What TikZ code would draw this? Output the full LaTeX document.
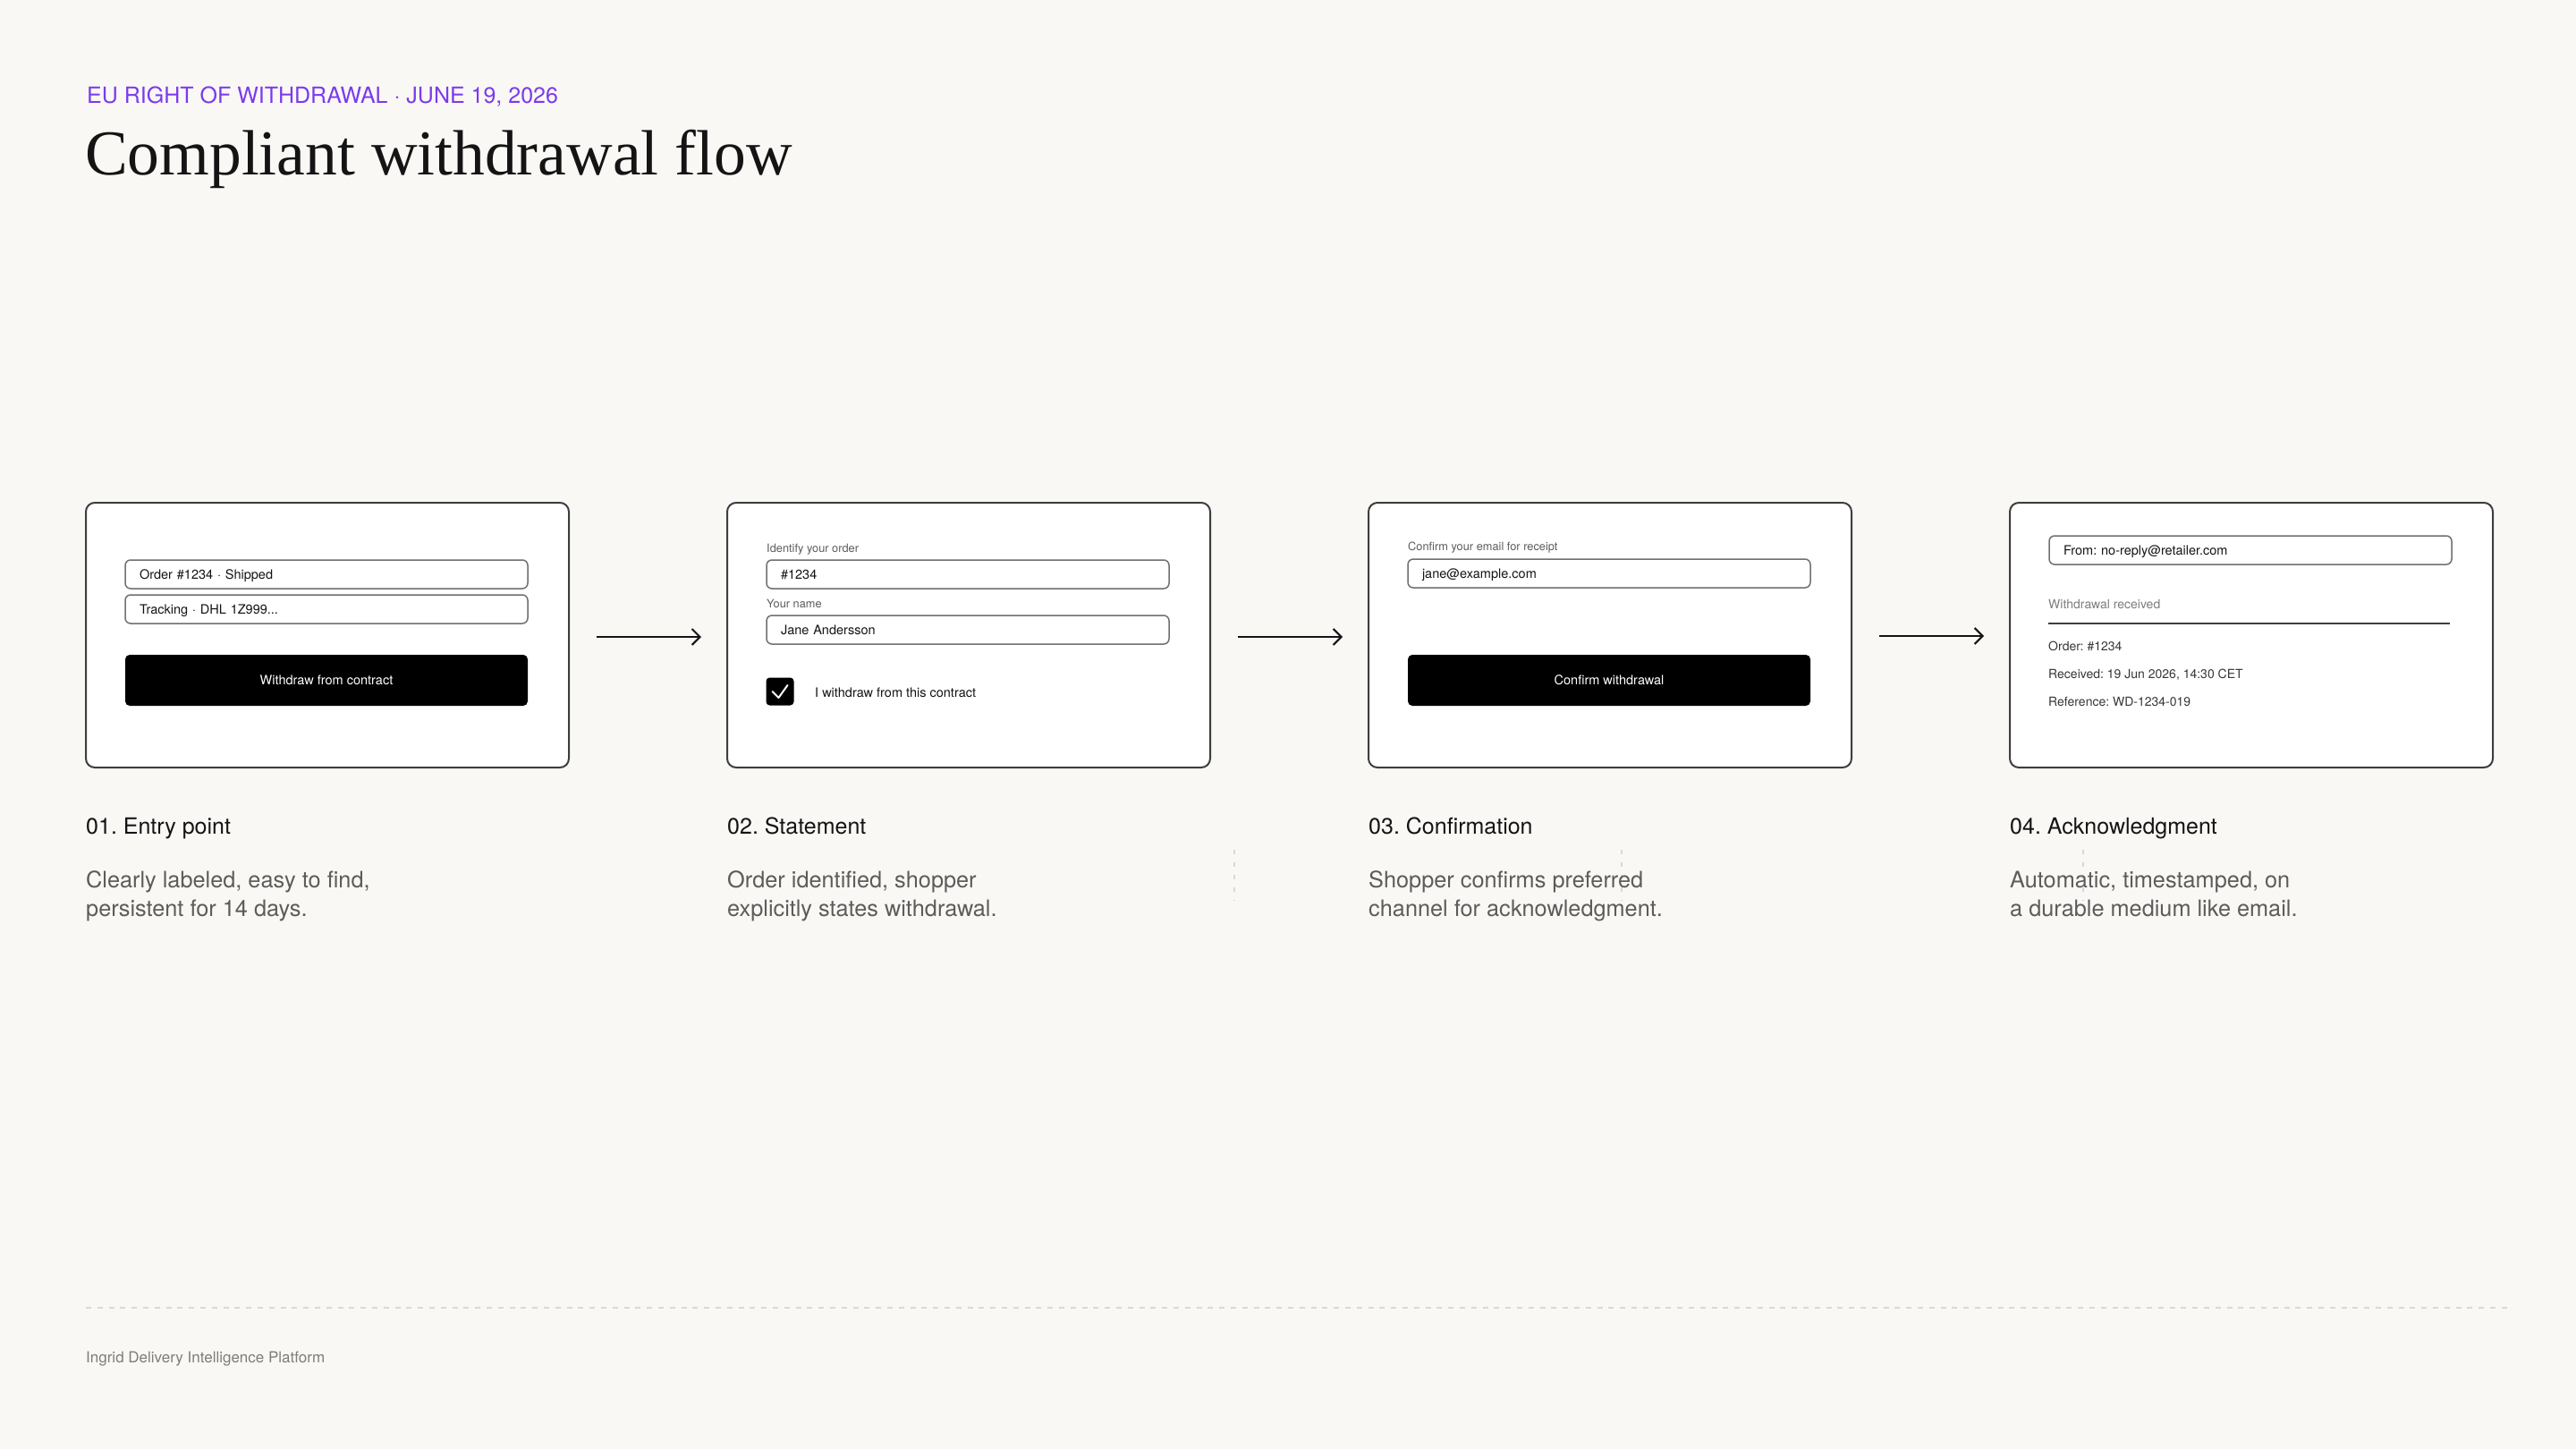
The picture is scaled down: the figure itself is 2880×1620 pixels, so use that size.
\documentclass[tikz,border=0pt]{standalone}
\usepackage{fontspec}
\setmainfont{TeX Gyre Heros}
\newfontfamily\titleserif{Liberation Serif}
\usetikzlibrary{arrows.meta}
\frenchspacing

\definecolor{pagebg}{RGB}{249,248,245}
\definecolor{accent}{RGB}{124,58,237}
\definecolor{ink}{RGB}{20,20,20}
\definecolor{mute}{RGB}{92,92,92}
\definecolor{soft}{RGB}{125,125,125}
\definecolor{frame}{RGB}{62,62,62}
\definecolor{fieldline}{RGB}{112,112,112}
\definecolor{faint}{RGB}{216,216,216}

\tikzset{
  card/.style={draw=frame, line width=2pt, fill=white, rounded corners=10pt,
    minimum width=540pt, minimum height=296pt, inner sep=0pt},
  field/.style={draw=fieldline, line width=1.5pt, fill=white, rounded corners=6pt,
    minimum height=32pt, text width=418pt, inner xsep=16pt, inner ysep=0pt,
    text height=10.4pt, text depth=0pt,
    align=left, text=ink, font=\fontsize{14.5}{16}\selectfont},
  button/.style={fill=black, rounded corners=5pt, minimum width=450pt,
    minimum height=57pt, text height=10.4pt, text depth=0pt,
    text=white, font=\fontsize{14.5}{16}\selectfont},
  txt/.style={inner sep=0pt, anchor=base west},
  fieldcap/.style={txt, text=mute, font=\fontsize{12.8}{14}\selectfont},
  mailline/.style={txt, text=ink!85, font=\fontsize{14}{16}\selectfont},
  stephead/.style={txt, text=ink, font=\fontsize{25}{28}\selectfont},
  stepdesc/.style={txt, text=mute, font=\fontsize{25.3}{32}\selectfont},
  flow/.style={-{Straight Barb[length=9pt,width=18pt]}, line width=2pt, draw=ink},
  guide/.style={draw=faint, line width=2pt, dash pattern=on 5pt off 9pt},
}

\begin{document}
\begin{tikzpicture}[x=1pt,y=-1pt]
\fill[pagebg] (0,0) rectangle (2880,1620);
\useasboundingbox (0,0) rectangle (2880,1620);

% header
\node[txt, text=accent, font=\fontsize{25}{28}\selectfont] (kicker) at (97,115) {EU RIGHT OF WITHDRAWAL · JUNE 19, 2026};
\node[txt, text=ink, font=\titleserif\fontsize{71.5}{80}\selectfont] (title) at (95,195) {Compliant withdrawal flow};

% faint guides
\draw[guide] (1380,950) -- (1380,1007);
\draw[guide] (1813,950) -- (1813,1007);
\draw[guide] (2329,950) -- (2329,1007);

% screens
\node[card] (c1) at (366,710) {};
\node[card] (c2) at (1083,710) {};
\node[card] (c3) at (1800,710) {};
\node[card] (c4) at (2517,710) {};

\draw[flow] ([xshift=30pt,yshift=-2pt]c1.east) -- ([xshift=-28pt,yshift=-2pt]c2.west);
\draw[flow] ([xshift=30pt,yshift=-2pt]c2.east) -- ([xshift=-28pt,yshift=-2pt]c3.west);
\draw[flow] ([xshift=30pt,yshift=-1pt]c3.east) -- ([xshift=-28pt,yshift=-1pt]c4.west);

% 01
\node[field] (order) at (365,642) {Order \#1234 · Shipped};
\node[field] (track) at (365,681) {Tracking · DHL 1Z999...};
\node[button] (withdraw) at (365,760.5) {Withdraw from contract};

% 02
\node[fieldcap] (idcap) at (857,617) {Identify your order};
\node[field] (orderno) at (1082,642) {\#1234};
\node[fieldcap] (namecap) at (857,679) {Your name};
\node[field] (name) at (1082,704) {Jane Andersson};
\node[fill=black, rounded corners=4pt, minimum size=31pt, inner sep=0pt] (tick) at (872,773) {};
\draw[white, line width=2pt, line cap=round, line join=round] (863.5,773) -- (870.5,780) -- (880.5,766);
\node[txt, text=ink, font=\fontsize{14.5}{16}\selectfont] (tickcap) at (911,779) {I withdraw from this contract};

% 03
\node[fieldcap] (mailcap) at (1574,615) {Confirm your email for receipt};
\node[field] (mail) at (1799,641) {jane@example.com};
\node[button] (confirm) at (1799,760.5) {Confirm withdrawal};

% 04
\node[field] (from) at (2516,615) {From: no-reply@retailer.com};
\node[txt, text=soft, font=\fontsize{14}{16}\selectfont] (subject) at (2290,680) {Withdrawal received};
\draw[frame, line width=1.5pt] (2290,697) -- (2739,697);
\node[mailline] (l1) at (2290,727) {Order: \#1234};
\node[mailline] (l2) at (2290,758) {Received: 19 Jun 2026, 14:30 CET};
\node[mailline] (l3) at (2290,789) {Reference: WD-1234-019};

% captions
\node[stephead] (h1) at (96,932) {01. Entry point};
\node[stepdesc] (d1a) at (96,992) {Clearly labeled, easy to find,};
\node[stepdesc] (d1b) at (96,1024) {persistent for 14 days.};

\node[stephead] (h2) at (813,932) {02. Statement};
\node[stepdesc] (d2a) at (813,992) {Order identified, shopper};
\node[stepdesc] (d2b) at (813,1024) {explicitly states withdrawal.};

\node[stephead] (h3) at (1530,932) {03. Confirmation};
\node[stepdesc] (d3a) at (1530,992) {Shopper confirms preferred};
\node[stepdesc] (d3b) at (1530,1024) {channel for acknowledgment.};

\node[stephead] (h4) at (2247,932) {04. Acknowledgment};
\node[stepdesc] (d4a) at (2247,992) {Automatic, timestamped, on};
\node[stepdesc] (d4b) at (2247,1024) {a durable medium like email.};

% footer
\draw[faint, line width=2pt, dash pattern=on 6pt off 6.8pt] (96,1462) -- (2805,1462);
\node[txt, text=soft, font=\fontsize{17}{20}\selectfont] (brand) at (96,1523) {Ingrid Delivery Intelligence Platform};
\end{tikzpicture}
\end{document}
